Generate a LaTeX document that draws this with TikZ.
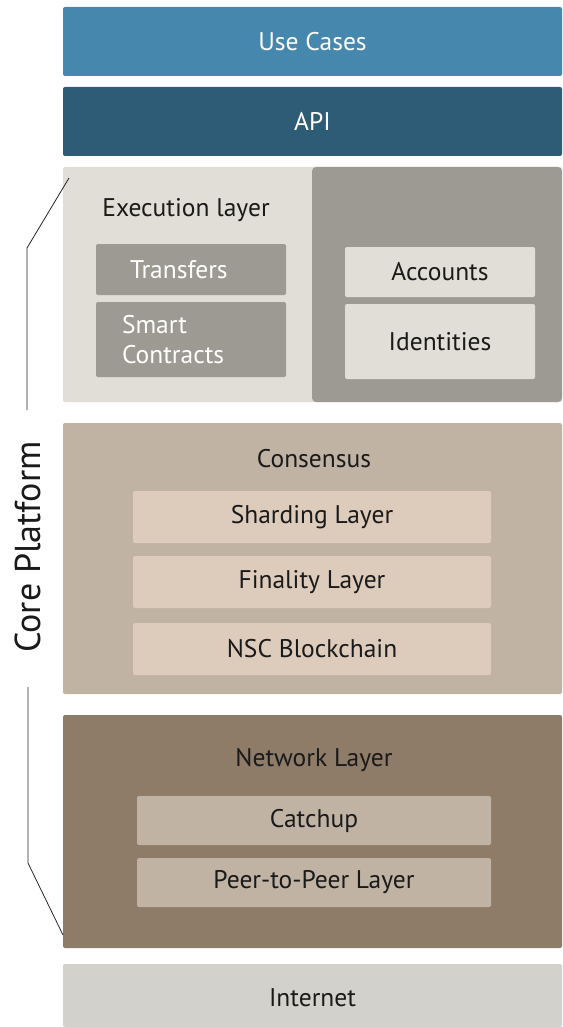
\documentclass[tikz,border=0pt]{standalone}
\usepackage{fontspec}
\setmainfont{PT Sans}
\definecolor{usecaseblue}{HTML}{4587AD}
\definecolor{apiblue}{HTML}{2E5B75}
\definecolor{execlight}{HTML}{E1DED7}
\definecolor{execgray}{HTML}{9D9A93}
\definecolor{consbrown}{HTML}{C0B3A4}
\definecolor{conslight}{HTML}{DDCBBB}
\definecolor{netbrown}{HTML}{8E7C69}
\definecolor{netgray}{HTML}{D3D1CC}
\definecolor{textdark}{HTML}{1A1A1A}
\begin{document}
\begin{tikzpicture}[
    x = 1pt, y = -1pt,
    layer/.style = {
        rectangle,
        rounded corners = 2pt,
        inner sep = 0pt,
        font = \fontsize{25.5}{30}\selectfont,
        text = textdark,
        align = center
    },
    band/.style = {layer, minimum width = 499pt},
    topband/.style = {band, text = white, minimum height = 69pt},
    execbox/.style = {layer, fill = execgray, text = white, minimum width = 190pt, text width = 138pt, align = left},
    idbox/.style = {layer, fill = execlight, minimum width = 190pt},
    consbox/.style = {layer, fill = conslight, minimum width = 358pt, minimum height = 52pt},
    netbox/.style = {layer, fill = consbrown, minimum width = 354pt, minimum height = 49pt},
    title/.style = {font = \fontsize{25.5}{30}\selectfont, text = textdark, inner sep = 0pt},
    bracket/.style = {draw = black!85, line width = 0.8pt}
]
\useasboundingbox (0, 0) rectangle (562, 1027);

% Top bands
\node[topband, fill = usecaseblue] (usecases) at (312.5, 41.5) {Use Cases};
\node[topband, fill = apiblue] (api) at (312.5, 121.5) {API};

% Execution layer and accounts
\node[layer, fill = execlight, minimum width = 499pt, minimum height = 235pt] (exec) at (312.5, 284.5) {};
\node[layer, fill = execgray, rounded corners = 4pt, minimum width = 250pt, minimum height = 235pt] (state) at (437, 284.5) {};
\node[title] (exectitle) at (186, 210) {Execution layer};
\node[execbox, minimum height = 51pt] (transfers) at (191, 269.5) {\hspace*{8pt}Transfers};
\node[execbox, minimum height = 75pt] (contracts) at (191, 339.5) {Smart\\Contracts};
\node[idbox, minimum height = 50pt] (accounts) at (440, 272) {Accounts};
\node[idbox, minimum height = 75pt] (identities) at (440, 341.5) {Identities};

% Consensus
\node[band, fill = consbrown, minimum height = 271pt] (consensus) at (312.5, 558.5) {};
\node[title] (constitle) at (314, 459) {Consensus};
\node[consbox] (sharding) at (312, 517) {Sharding Layer};
\node[consbox] (finality) at (312, 582) {Finality Layer};
\node[consbox] (nsc) at (312, 649) {NSC Blockchain};

% Network
\node[band, fill = netbrown, minimum height = 233pt] (network) at (312.5, 831.5) {};
\node[title] (nettitle) at (314, 760) {Network Layer};
\node[netbox] (catchup) at (314, 820.5) {Catchup};
\node[netbox] (p2p) at (314, 882.5) {Peer-to-Peer Layer};

% Internet
\node[band, fill = netgray, minimum height = 63pt] (internet) at (312.5, 995.5) {};
\node[title] (nettext) at (312.5, 998) {Internet};

% Core platform bracket
\node[title, rotate = 90, font = \fontsize{36}{40}\selectfont] (core) at (28, 547) {Core Platform};
\coordinate (brtop) at (69, 178);
\coordinate (brbot) at (63, 935);
\draw[bracket] (brtop) -- (27, 248) -- (27, 410);
\draw[bracket] (28, 687) -- (28, 863) -- (brbot);

\end{tikzpicture}
\end{document}
